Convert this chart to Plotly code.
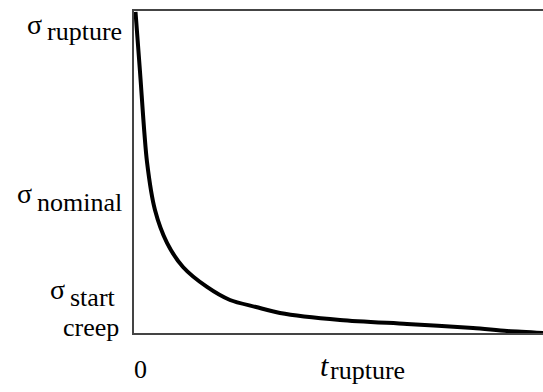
import plotly.graph_objects as go

# Normalised time (0..100 of the plotted span) and stress (0 = start-creep level, 100 = rupture level)
time_values = [0.37, 1.47, 3.18, 5.13, 8.07, 11.98, 17.85, 23.47, 29.83, 35.70,
               50.37, 66.75, 82.89, 91.20, 100.0]
stress_values = [99.7, 81.1, 53.1, 38.2, 28.0, 20.5, 14.3, 10.25, 8.07, 6.21,
                 4.04, 2.80, 1.55, 0.62, 0.0]

sigma_symbol = "σ"
y_subscripts = ["rupture", "nominal", "start"]
y_extra = "creep"
x_tick_label = "0"
x_symbol = "t"
x_subscript = "rupture"

W, H = 543, 392
L, T, B = 134, 11, 59
PW, PH = W - L, H - T - B

def px(x):
    return (x - L) / PW

def py(y):
    return (H - B - y) / PH

FONT = "Liberation Serif, DejaVu Serif, Times New Roman, serif"

fig = go.Figure()
fig.add_trace(go.Scatter(x=time_values, y=stress_values, mode="lines",
                         line=dict(color="black", width=4, shape="spline", smoothing=0.8),
                         hoverinfo="skip", showlegend=False))

ann = []
def add(text, x, y, size, xanchor, italic=False):
    t = f"<i>{text}</i>" if italic else text
    ann.append(dict(text=t, x=px(x), y=py(y), xref="paper", yref="paper",
                    xanchor=xanchor, yanchor="middle", showarrow=False,
                    font=dict(family=FONT, size=size, color="black")))

# sigma_rupture
add(sigma_symbol, 44, 25, 28, "right")
add(y_subscripts[0], 45, 32, 26, "left")
# sigma_nominal
add(sigma_symbol, 34, 193, 28, "right")
add(y_subscripts[1], 35, 202, 26, "left")
# sigma_start creep
add(sigma_symbol, 67, 289, 28, "right")
add(y_subscripts[2], 68, 297, 26, "left")
add(y_extra, 121, 327, 26, "right")
# x labels
add(x_tick_label, 140, 369, 26, "center")
add(x_symbol, 331, 365, 30, "right", italic=True)
add(x_subscript, 328, 370, 26, "left")

fig.update_layout(
    width=W, height=H,
    margin=dict(l=L, r=0, t=T, b=B),
    paper_bgcolor="white", plot_bgcolor="white",
    annotations=ann,
    xaxis=dict(range=[0, 100], showline=True, mirror=True, linecolor="#444", linewidth=2,
               showgrid=False, zeroline=False, showticklabels=False, ticks=""),
    yaxis=dict(range=[0, 100], showline=True, linecolor="#444", linewidth=2,
               showgrid=False, zeroline=False, showticklabels=False, ticks=""),
)

fig.write_html("out.html", config={"displayModeBar": False},
               post_script="document.body.style.margin='0';")
